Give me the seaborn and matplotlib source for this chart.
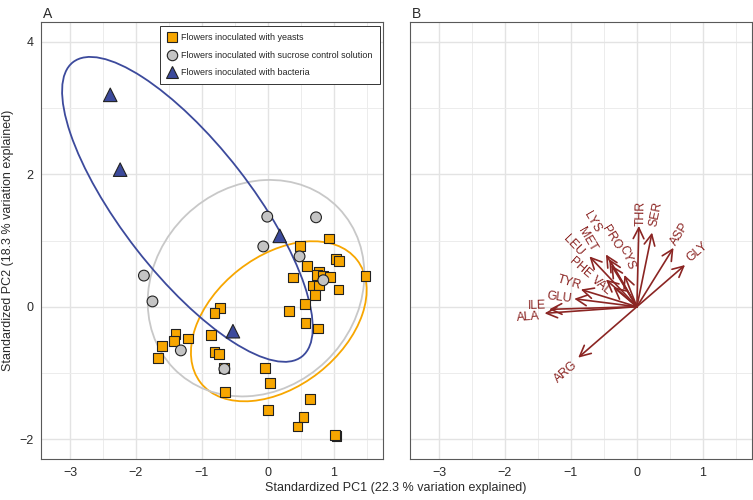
import numpy as np
import pandas as pd
import matplotlib
matplotlib.use("Agg")
import matplotlib.pyplot as plt
import seaborn as sns
from matplotlib.patches import Ellipse
from matplotlib.lines import Line2D
from matplotlib.ticker import MultipleLocator

# ---------------- data ----------------
group_names = ["Flowers inoculated with yeasts",
               "Flowers inoculated with sucrose control solution",
               "Flowers inoculated with bacteria"]

yeast_x = [-0.73, -0.81, -1.40, -1.42, -1.21, -1.60, -1.67, -0.86, -0.81, -0.74,
           -0.67, -0.645, 0.49, 0.93, 1.03, 1.08, 0.59, 0.38, 0.78, 0.75,
           0.84, 0.94, 0.68, 0.77, 0.72, 1.07, 1.48, 0.56, 0.32, 0.57,
           0.76, -0.05, 0.03, 0.64, 0.00, 0.54, 0.45, 1.04, 1.02]
yeast_y = [-0.02, -0.10, -0.41, -0.52, -0.48, -0.59, -0.77, -0.43, -0.69, -0.72,
           -0.93, -1.29, 0.92, 1.03, 0.72, 0.69, 0.61, 0.44, 0.52, 0.48,
           0.46, 0.45, 0.32, 0.32, 0.18, 0.26, 0.46, 0.04, -0.07, -0.25,
           -0.33, -0.93, -1.15, -1.39, -1.56, -1.67, -1.81, -1.95, -1.94]

control_x = [-1.88, -1.75, -1.32, -0.66, -0.01, 0.73, -0.07, 0.48, 0.84]
control_y = [0.47, 0.08, -0.66, -0.94, 1.36, 1.35, 0.91, 0.76, 0.40]

bacteria_x = [-2.39, -2.24, 0.18, -0.53]
bacteria_y = [3.20, 2.07, 1.07, -0.37]

# ellipses (yeasts, control, bacteria): centre, full width, full height, angle
ell_cx = [0.165, -0.18, -1.22]
ell_cy = [-0.22, 0.28, 1.47]
ell_w = [3.01, 3.48, 5.64]
ell_h = [1.97, 3.06, 1.96]
ell_angle = [38, 44, 128]

amino = ["THR", "SER", "ASP", "GLY", "ARG", "ALA", "ILE", "GLU", "TYR",
         "PHE", "VAL", "LEU", "MET", "LYS", "PRO", "CYS"]
load_x = [0.03, 0.23, 0.555, 0.73, -0.89, -1.40, -1.33, -0.95, -0.85,
          -0.47, -0.36, -0.72, -0.47, -0.42, -0.39, -0.19]
load_y = [1.22, 1.12, 0.89, 0.63, -0.77, -0.10, -0.04, 0.12, 0.26,
          0.41, 0.30, 0.76, 0.79, 0.72, 0.63, 0.48]
label_x = [0.065, 0.29, 0.655, 0.91, -1.08, -1.65, -1.51, -1.18, -1.03,
           -0.85, -0.54, -0.97, -0.75, -0.68, -0.39, -0.15]
label_y = [1.41, 1.40, 1.10, 0.82, -0.99, -0.16, 0.02, 0.13, 0.36,
           0.59, 0.31, 0.93, 1.01, 1.28, 1.05, 0.74]

x_ticks = [-3, -2, -1, 0, 1]
y_ticks = [-2, 0, 2, 4]

# ---------------- styling ----------------
sns.set_theme(style="white")
plt.rcParams['font.family'] = ['Liberation Sans', 'DejaVu Sans']

col_yeast = "#F7A600"
col_ctrl = "#C4C4C4"
col_bact = "#3C4A9C"
col_ell_ctrl = "#C8C8C8"
col_arrow = "#8B2523"
frame_col = "#595959"

df = pd.DataFrame({
    "x": yeast_x + control_x + bacteria_x,
    "y": yeast_y + control_y + bacteria_y,
    "group": [group_names[0]] * len(yeast_x) + [group_names[1]] * len(control_x)
             + [group_names[2]] * len(bacteria_x),
})

fig = plt.figure(figsize=(7.53, 5.0), dpi=100)
axA = fig.add_axes([41 / 753, 41 / 500, 342 / 753, 437 / 500])
axB = fig.add_axes([410 / 753, 41 / 500, 342 / 753, 437 / 500])

for ax in (axA, axB):
    ax.set_xlim(-3.44, 1.745)
    ax.set_ylim(-2.30, 4.30)
    ax.set_xticks(x_ticks)
    ax.set_yticks(y_ticks)
    ax.xaxis.set_minor_locator(MultipleLocator(0.5))
    ax.yaxis.set_minor_locator(MultipleLocator(1))
    ax.grid(which="major", color="#E3E3E3", lw=1.0)
    ax.grid(which="minor", color="#ECECEC", lw=0.7)
    ax.set_axisbelow(True)
    for s in ax.spines.values():
        s.set_color(frame_col)
        s.set_linewidth(0.8)
        s.set_visible(True)
    ax.tick_params(which="major", direction="out", length=3.5, width=0.7,
                   color=frame_col, labelsize=9, labelcolor="#2a2a2a", pad=2)
    ax.tick_params(which="minor", length=0)
    ax.set_xticklabels([f"\u2212{abs(t)}" if t < 0 else str(t) for t in x_ticks])
    ax.set_xlabel("")
    ax.set_ylabel("")

axA.set_yticklabels([f"\u2212{abs(t)}" if t < 0 else str(t) for t in y_ticks])
axB.set_yticklabels([])

# ellipses
for cx, cy, w, h, a, c in zip(ell_cx, ell_cy, ell_w, ell_h, ell_angle,
                               [col_yeast, col_ell_ctrl, col_bact]):
    axA.add_patch(Ellipse((cx, cy), w, h, angle=a, fill=False, edgecolor=c,
                          lw=1.3, zorder=2))

sns.scatterplot(data=df, x="x", y="y", hue="group", style="group", size="group",
                hue_order=group_names, style_order=group_names,
                size_order=group_names,
                sizes={group_names[0]: 50, group_names[1]: 60, group_names[2]: 95},
                palette={group_names[0]: col_yeast, group_names[1]: col_ctrl,
                         group_names[2]: col_bact},
                markers={group_names[0]: "s", group_names[1]: "o", group_names[2]: "^"},
                edgecolor="#222222", linewidth=0.8, legend=False,
                ax=axA, zorder=3)
axA.set_xlabel("")
axA.set_ylabel("Standardized PC2 (18.3 % variation explained)", fontsize=9,
               color="#2a2a2a", labelpad=4)

handles = [
    Line2D([], [], marker="s", ls="", markersize=7, markerfacecolor=col_yeast,
           markeredgecolor="#222222", markeredgewidth=0.8),
    Line2D([], [], marker="o", ls="", markersize=7.5, markerfacecolor=col_ctrl,
           markeredgecolor="#222222", markeredgewidth=0.8),
    Line2D([], [], marker="^", ls="", markersize=9, markerfacecolor=col_bact,
           markeredgecolor="#222222", markeredgewidth=0.8),
]
leg = axA.legend(handles, group_names, loc="upper right",
                 bbox_to_anchor=(0.99, 0.99), fontsize=6.5, frameon=True,
                 fancybox=False, edgecolor="#333333", framealpha=1,
                 handlelength=1.1, handletextpad=0.5, borderpad=0.75,
                 labelspacing=0.95, borderaxespad=0)
leg.get_frame().set_linewidth(0.7)
leg.set_zorder(5)

# panel B arrows
for name, x, y, lx, ly in zip(amino, load_x, load_y, label_x, label_y):
    axB.annotate("", xy=(x, y), xytext=(0, 0),
                 arrowprops=dict(arrowstyle="->,head_length=0.65,head_width=0.32",
                                 color=col_arrow, lw=1.2, shrinkA=0, shrinkB=0))
    ang = np.degrees(np.arctan(y / x))
    axB.text(lx, ly, name, rotation=ang, rotation_mode="anchor", ha="center",
             va="center", color=col_arrow, fontsize=8.8)

fig.text(396 / 753, 0.012, "Standardized PC1 (22.3 % variation explained)",
         ha="center", va="bottom", fontsize=9, color="#2a2a2a")
fig.text(43 / 753, 0.985, "A", ha="left", va="top", fontsize=10, color="#2a2a2a")
fig.text(412 / 753, 0.985, "B", ha="left", va="top", fontsize=10, color="#2a2a2a")

fig.savefig("out.png", dpi=100)
